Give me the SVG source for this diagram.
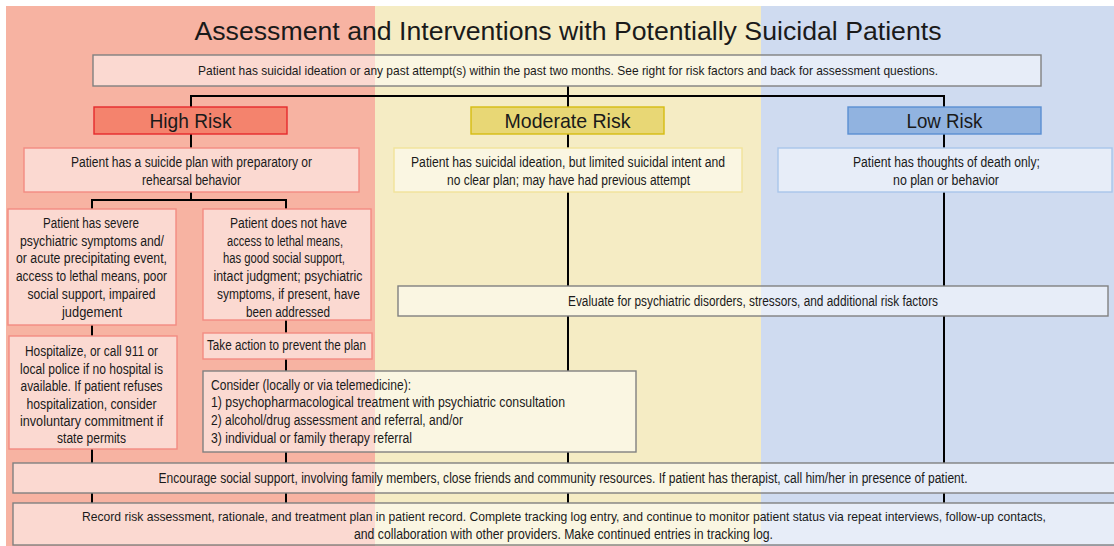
<svg xmlns="http://www.w3.org/2000/svg" width="1114" height="546" viewBox="0 0 1114 546">
<style>
text{font-family:"Liberation Sans",Arial,sans-serif;fill:#1a1a1a}
.t{font-size:14px;text-anchor:middle}
.l{font-size:14px;text-anchor:start}
.h{font-size:21px;text-anchor:middle}
.box{fill:#ffffff;fill-opacity:0.5;stroke:#808080;stroke-width:1.4}
.rb{fill:#ffffff;fill-opacity:0.5;stroke:#f28b82;stroke-width:1.4}
.yb{fill:#ffffff;fill-opacity:0.5;stroke:#f1e39a;stroke-width:1.4}
.bb{fill:#ffffff;fill-opacity:0.5;stroke:#a9c5ea;stroke-width:1.4}
.c line,.c polyline{stroke:#000;stroke-width:2;fill:none}
</style>
<rect x="0" y="0" width="1114" height="546" fill="#ffffff"/>
<rect x="6" y="6" width="369" height="540" fill="#f7b3a2"/>
<rect x="375" y="6" width="386" height="540" fill="#f5ecc4"/>
<rect x="761" y="6" width="353" height="540" fill="#cfdbf0"/>
<text x="568" y="39.5" style="font-size:26px;text-anchor:middle" textLength="747" lengthAdjust="spacingAndGlyphs">Assessment and Interventions with Potentially Suicidal Patients</text>
<g class="c" id="connectors">
<line x1="568" y1="86" x2="568" y2="96"/>
<polyline points="191,107 191,96 944,96 944,107"/>
<line x1="568" y1="96" x2="568" y2="107"/>
<line x1="191" y1="134" x2="191" y2="148"/>
<line x1="568" y1="134" x2="568" y2="148"/>
<line x1="944" y1="134" x2="944" y2="148"/>
<line x1="191" y1="192" x2="191" y2="200"/>
<polyline points="92,209 92,200 286,200 286,209"/>
<line x1="92" y1="325" x2="92" y2="336"/>
<line x1="286" y1="320" x2="286" y2="333"/>
<line x1="286" y1="359" x2="286" y2="371"/>
<line x1="92" y1="449" x2="92" y2="463"/>
<line x1="286" y1="452" x2="286" y2="463"/>
<line x1="568" y1="192" x2="568" y2="286"/>
<line x1="568" y1="316" x2="568" y2="371"/>
<line x1="568" y1="452" x2="568" y2="463"/>
<line x1="944" y1="192" x2="944" y2="286"/>
<line x1="944" y1="316" x2="944" y2="463"/>
<line x1="92" y1="493" x2="92" y2="503"/>
<line x1="286" y1="493" x2="286" y2="503"/>
<line x1="568" y1="493" x2="568" y2="503"/>
<line x1="944" y1="493" x2="944" y2="503"/>
</g>
<g id="top">
<rect class="box" x="93" y="55" width="948" height="31"/>
<text x="568" y="75" style="font-size:13.5px;text-anchor:middle" textLength="740" lengthAdjust="spacingAndGlyphs">Patient has suicidal ideation or any past attempt(s) within the past two months. See right for risk factors and back for assessment questions.</text>
</g>
<g id="high">
<rect x="94" y="107" width="193" height="27" fill="#f4836d" stroke="#e52a2d" stroke-width="1.4"/>
<text class="h" x="190.5" y="128" textLength="82" lengthAdjust="spacingAndGlyphs">High Risk</text>
</g>
<g id="moderate">
<rect x="471" y="107" width="193" height="27" fill="#e8d775" stroke="#d6bc12" stroke-width="1.4"/>
<text class="h" x="567.5" y="128" textLength="126" lengthAdjust="spacingAndGlyphs">Moderate Risk</text>
</g>
<g id="low">
<rect x="848" y="107" width="193" height="27" fill="#91b3e0" stroke="#5b8fd2" stroke-width="1.4"/>
<text class="h" x="944.5" y="128" textLength="76" lengthAdjust="spacingAndGlyphs">Low Risk</text>
</g>
<g id="high-desc">
<rect class="rb" x="24" y="148" width="335" height="44"/>
<text class="t" x="191.5" y="166.5" textLength="241" lengthAdjust="spacingAndGlyphs">Patient has a suicide plan with preparatory or</text>
<text class="t" x="191.5" y="184.5" textLength="99" lengthAdjust="spacingAndGlyphs">rehearsal behavior</text>
</g>
<g id="moderate-desc">
<rect class="yb" x="394" y="148" width="348" height="44"/>
<text class="t" x="568" y="166.5" textLength="314" lengthAdjust="spacingAndGlyphs">Patient has suicidal ideation, but limited suicidal intent and</text>
<text class="t" x="568.5" y="184.5" textLength="243" lengthAdjust="spacingAndGlyphs">no clear plan; may have had previous attempt</text>
</g>
<g id="low-desc">
<rect class="bb" x="778" y="148" width="334" height="44"/>
<text class="t" x="946.5" y="166.5" textLength="187" lengthAdjust="spacingAndGlyphs">Patient has thoughts of death only;</text>
<text class="t" x="946" y="184.5" textLength="106" lengthAdjust="spacingAndGlyphs">no plan or behavior</text>
</g>
<g id="severe">
<rect class="rb" x="8" y="209" width="168" height="116"/>
<text class="t" x="91" y="228" textLength="96" lengthAdjust="spacingAndGlyphs">Patient has severe</text>
<text class="t" x="92" y="245.7" textLength="144" lengthAdjust="spacingAndGlyphs">psychiatric symptoms and/</text>
<text class="t" x="91.5" y="263.4" textLength="151" lengthAdjust="spacingAndGlyphs">or acute precipitating event,</text>
<text class="t" x="91.5" y="281" textLength="151" lengthAdjust="spacingAndGlyphs">access to lethal means, poor</text>
<text class="t" x="91.5" y="298.8" textLength="128" lengthAdjust="spacingAndGlyphs">social support, impaired</text>
<text class="t" x="92" y="316.5" textLength="60" lengthAdjust="spacingAndGlyphs">judgement</text>
</g>
<g id="no-access">
<rect class="rb" x="203" y="209" width="168" height="111"/>
<text class="t" x="288.5" y="228" textLength="117" lengthAdjust="spacingAndGlyphs">Patient does not have</text>
<text class="t" x="285" y="245.7" textLength="116" lengthAdjust="spacingAndGlyphs">access to lethal means,</text>
<text class="t" x="284" y="263.4" textLength="122" lengthAdjust="spacingAndGlyphs">has good social support,</text>
<text class="t" x="288" y="281" textLength="149" lengthAdjust="spacingAndGlyphs">intact judgment; psychiatric</text>
<text class="t" x="288.5" y="298.8" textLength="143" lengthAdjust="spacingAndGlyphs">symptoms, if present, have</text>
<text class="t" x="288" y="316.5" textLength="84" lengthAdjust="spacingAndGlyphs">been addressed</text>
</g>
<g id="hospitalize">
<rect class="rb" x="9" y="336" width="168" height="113"/>
<text class="t" x="91.5" y="356" textLength="133" lengthAdjust="spacingAndGlyphs">Hospitalize, or call 911 or</text>
<text class="t" x="91.5" y="373.6" textLength="143" lengthAdjust="spacingAndGlyphs">local police if no hospital is</text>
<text class="t" x="91.5" y="391.2" textLength="142" lengthAdjust="spacingAndGlyphs">available. If patient refuses</text>
<text class="t" x="91.5" y="408.8" textLength="130" lengthAdjust="spacingAndGlyphs">hospitalization, consider</text>
<text class="t" x="91.5" y="426.4" textLength="143" lengthAdjust="spacingAndGlyphs">involuntary commitment if</text>
<text class="t" x="91.5" y="443" textLength="69" lengthAdjust="spacingAndGlyphs">state permits</text>
</g>
<g id="take-action">
<rect class="rb" x="203" y="333" width="169" height="26"/>
<text class="t" x="286.5" y="350" textLength="159" lengthAdjust="spacingAndGlyphs">Take action to prevent the plan</text>
</g>
<g id="consider">
<rect class="box" x="203" y="371" width="433" height="81"/>
<text class="l" x="211" y="389.5" textLength="200" lengthAdjust="spacingAndGlyphs">Consider (locally or via telemedicine):</text>
<text class="l" x="211" y="406.5" textLength="354" lengthAdjust="spacingAndGlyphs">1) psychopharmacological treatment with psychiatric consultation</text>
<text class="l" x="211" y="424.5" textLength="252" lengthAdjust="spacingAndGlyphs">2) alcohol/drug assessment and referral, and/or</text>
<text class="l" x="211" y="442.5" textLength="201" lengthAdjust="spacingAndGlyphs">3) individual or family therapy referral</text>
</g>
<g id="evaluate">
<rect class="box" x="398" y="286" width="710" height="30"/>
<text class="t" x="753" y="305.5" textLength="370" lengthAdjust="spacingAndGlyphs">Evaluate for psychiatric disorders, stressors, and additional risk factors</text>
</g>
<g id="encourage">
<rect class="box" x="13" y="463" width="1102" height="30"/>
<text class="t" x="563" y="482.5" textLength="809" lengthAdjust="spacingAndGlyphs">Encourage social support, involving family members, close friends and community resources. If patient has therapist, call him/her in presence of patient.</text>
</g>
<g id="record">
<rect class="box" x="13" y="503" width="1102" height="42"/>
<text x="564" y="521" style="font-size:13px;text-anchor:middle" textLength="964" lengthAdjust="spacingAndGlyphs">Record risk assessment, rationale, and treatment plan in patient record. Complete tracking log entry, and continue to monitor patient status via repeat interviews, follow-up contacts,</text>
<text class="t" x="563.5" y="538.5" textLength="419" lengthAdjust="spacingAndGlyphs">and collaboration with other providers. Make continued entries in tracking log.</text>
</g>
</svg>
